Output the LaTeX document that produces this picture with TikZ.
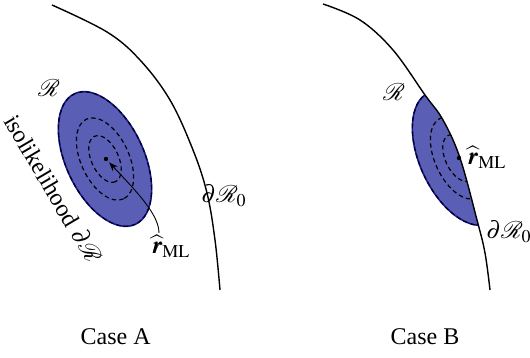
\documentclass[tikz,border=0pt]{standalone}
\usepackage{mathptmx}
\usepackage{amsmath}
\usepackage{bm}
\usepackage{mathrsfs}
\usepackage{fontspec}
\setmainfont{Liberation Serif}
\usetikzlibrary{arrows.meta}
\definecolor{regionfill}{RGB}{91,94,181}
\definecolor{regionedge}{RGB}{20,20,160}
\tikzset{
  boundary/.style={line width=0.7pt},
  dashline/.style={dash pattern=on 2.2pt off 1.6pt, line width=0.6pt},
  edgeline/.style={draw=regionedge, line width=0.8pt},
  lbl/.style={inner sep=0pt, font=\fontsize{12}{14}\selectfont},
  mldot/.style={circle, fill=black, inner sep=0pt, minimum size=2.2pt},
  ptr/.style={-{Stealth[length=4.5pt,width=3.4pt]}, line width=0.45pt, shorten >=1pt}
}
\begin{document}
\begin{tikzpicture}[x=0.5pt,y=-0.5pt]
\useasboundingbox (0,0) rectangle (530,358);
% ---------------- Case A ----------------
\begin{scope}[rotate around={-65:(105,159)}]
  \fill[regionfill] (105,159) ellipse [x radius=72, y radius=39];
  \draw[edgeline] (105,159) ellipse [x radius=72, y radius=39];
  \draw[dashline] (105,159) ellipse [x radius=72, y radius=39];
  \draw[dashline] (105,159) ellipse [x radius=44, y radius=24];
  \draw[dashline] (105,159) ellipse [x radius=25, y radius=13.6];
\end{scope}
\node[mldot] (mlA) at (106,159) {};
\draw[boundary] plot[smooth, tension=0.6] coordinates {(52,5) (107,32) (140,60) (170,100) (193,150) (207,193) (215,240) (220,290)};
\node[lbl] (RA) at (49,88) {$\mathscr{R}$};
\node[lbl] (dRA) at (224,196) {$\partial\mathscr{R}_0$};
\node[lbl, rotate=-59.5] (isoA) at (53.5,189) {isolikelihood $\partial\mathscr{R}$};
\node[lbl] (rA) at (171,246) {$\widehat{\bm{r}}_{\mathrm{ML}}$};
\coordinate (arrA) at (159,233);
\draw[ptr] (arrA) .. controls (159,214) and (135,190) .. (mlA);
\node[lbl] (caseA) at (115.7,336.5) {Case A};
% ---------------- Case B ----------------
\begin{scope}
  \clip plot[smooth, tension=0.6] coordinates {(323,4) (360,20) (393,50) (425,95) (443,120) (460,158) (477,220) (485,253) (490,290)} -- (300,290) -- (300,4) -- cycle;
  \begin{scope}[rotate around={-65:(459,158)}]
    \fill[regionfill] (459,158) ellipse [x radius=72, y radius=39];
    \draw[edgeline] (459,158) ellipse [x radius=72, y radius=39];
    \draw[dashline] (459,158) ellipse [x radius=72, y radius=39];
    \draw[dashline] (459,158) ellipse [x radius=44, y radius=24];
    \draw[dashline] (459,158) ellipse [x radius=25, y radius=13.6];
  \end{scope}
\end{scope}
\draw[boundary] plot[smooth, tension=0.6] coordinates {(323,4) (360,20) (393,50) (425,95) (443,120) (460,158) (477,220) (485,253) (490,290)};
\node[mldot] (mlB) at (459,158) {};
\node[lbl] (RB) at (394,92) {$\mathscr{R}$};
\node[lbl, anchor=west] (rB) at (467,157) {$\widehat{\bm{r}}_{\mathrm{ML}}$};
\node[lbl] (dRB) at (509,232) {$\partial\mathscr{R}_0$};
\node[lbl] (caseB) at (425,336.5) {Case B};
\end{tikzpicture}
\end{document}
